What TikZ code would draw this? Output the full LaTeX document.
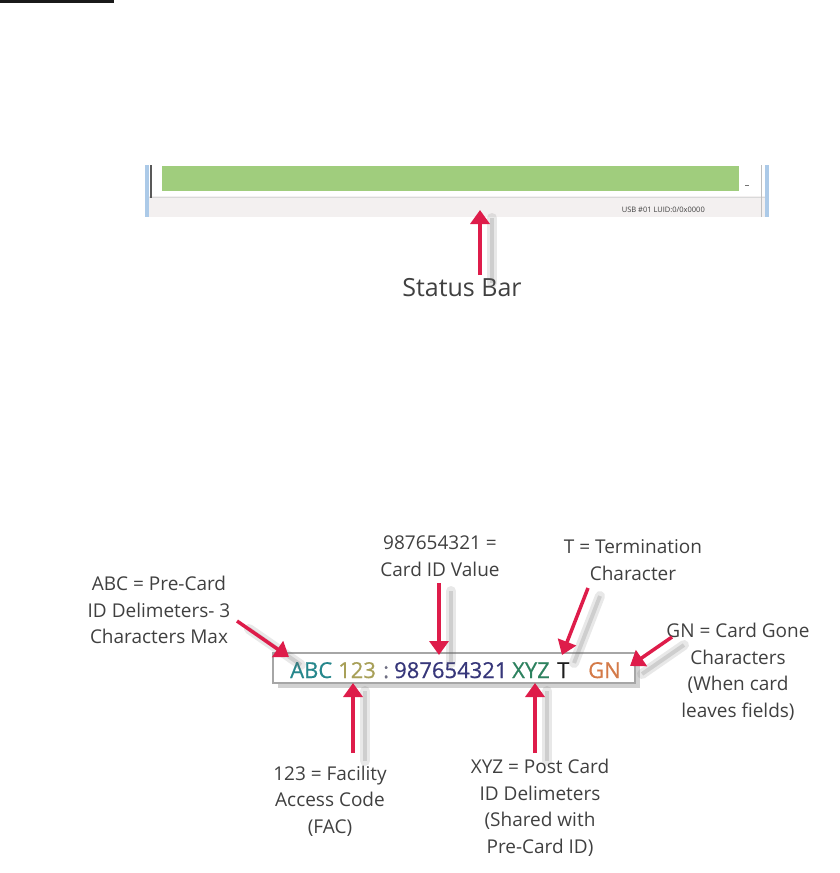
\documentclass[tikz,border=0pt]{standalone}
\usepackage{fontspec}
\setmainfont{Open Sans}
\usepackage{xcolor}
\usepackage{tikz}
\usetikzlibrary{positioning,arrows.meta,shadows}

\definecolor{pin}{RGB}{222,28,74}
\definecolor{labelgray}{RGB}{64,64,64}
\definecolor{barfill}{RGB}{160,205,125}
\definecolor{winblue}{RGB}{172,202,232}
\definecolor{stripgray}{RGB}{243,240,240}
\definecolor{cabc}{RGB}{38,135,140}
\definecolor{cfac}{RGB}{168,160,88}
\definecolor{ccolon}{RGB}{110,110,130}
\definecolor{ccid}{RGB}{55,55,122}
\definecolor{cxyz}{RGB}{45,130,95}
\definecolor{cterm}{RGB}{30,30,30}
\definecolor{cgn}{RGB}{212,122,72}

\begin{document}
\begin{tikzpicture}[
  x=1pt, y=-1pt,
  lbl/.style={align=center, text=labelgray, inner sep=0pt, font=\fontsize{19}{26.5}\selectfont},
  chars/.style={anchor=base west, inner sep=0pt, font=\fontsize{22}{22}\selectfont\addfontfeature{FakeBold=0.6}},
  arr/.style={-{Triangle[length=14pt,width=19pt]}, line width=3.5pt, draw=pin},
  shade/.style={line width=10pt, draw=black!60, opacity=.15, line cap=round, transform canvas={xshift=12pt,yshift=-8pt}},
  shadecore/.style={line width=4pt, draw=black!60, opacity=.2, transform canvas={xshift=12pt,yshift=-8pt}}
]
\useasboundingbox (0,0) rectangle (840,873);

\draw[line width=2.5pt, black!90] (0,1.25) -- (114,1.25);

% status bar window
\fill[stripgray] (148,196) rectangle (766,217);
\draw[black!15] (148,197) -- (766,197);
\fill[barfill] (162,166) rectangle (739,191);
\fill[winblue] (145,165) rectangle (149,217);
\fill[winblue] (765,165) rectangle (769,217);
\draw[black!65, line width=1.2pt] (151,165) -- (151,198);
\draw[black!25] (761,165) -- (761,217);
\draw[black!55, line width=1pt] (745,185) -- (749,185);
\node[anchor=base east, inner sep=0pt, font=\fontsize{7.5}{8}\selectfont, text=black!75] (usb) at (705,212) {USB \#01 LUID:0/0x0000};

\node[lbl, font=\fontsize{25}{30}\selectfont] (status) at (462,288) {Status Bar};
\coordinate (sttail) at (480,275);
\coordinate (sttip) at (480,210);

% card output string
\node[draw=black!35, line width=1.5pt, fill=white, minimum width=362pt, minimum height=30pt,
  drop shadow={shadow xshift=5pt, shadow yshift=-5pt, opacity=.3, fill=black!60}] (card) at (454,668) {};
\node[chars, text=cabc] (abc) at (290,678) {ABC};
\node[chars, text=cfac] (fac) at (338,678) {123};
\node[chars, text=ccolon] (colon) at (383,678) {:};
\node[chars, text=ccid] (cid) at (394,678) {987654321};
\node[chars, text=cxyz] (xyz) at (512,678) {XYZ};
\node[chars, text=cterm] (term) at (557,678) {T};
\node[chars, text=cgn] (gn) at (588,678) {GN};

\node[lbl] (abclbl) at (159,610) {ABC = Pre-Card\\ID Delimeters- 3\\Characters Max};
\node[lbl] (cidlbl) at (440,556) {987654321 =\\Card ID Value};
\node[lbl] (termlbl) at (633,560) {T = Termination\\Character};
\node[lbl] (gnlbl) at (738,672) {GN = Card Gone\\Characters\\(When card\\leaves fields)};
\node[lbl] (faclbl) at (330,801) {123 = Facility\\Access Code\\(FAC)};
\node[lbl] (xyzlbl) at (540,808) {XYZ = Post Card\\ID Delimeters\\(Shared with\\Pre-Card ID)};

\coordinate (abctail) at (237,621);  \coordinate (abctip) at (289,657);
\coordinate (cidtail) at (439,583);  \coordinate (cidtip) at (439,655);
\coordinate (termtail) at (588,588); \coordinate (termtip) at (562,655);
\coordinate (gntail) at (672,637);   \coordinate (gntip) at (630,666);
\coordinate (factail) at (353,753);  \coordinate (factip) at (353,683);
\coordinate (xyztail) at (535,753);  \coordinate (xyztip) at (535,683);

\foreach \a in {st,abc,cid,term,gn,fac,xyz}{
  \draw[shade] (\a tail) -- (\a tip);
  \draw[shadecore] (\a tail) -- (\a tip);
}
\foreach \a in {st,abc,cid,term,gn,fac,xyz}
  \draw[arr] (\a tail) -- (\a tip);
\end{tikzpicture}
\end{document}
